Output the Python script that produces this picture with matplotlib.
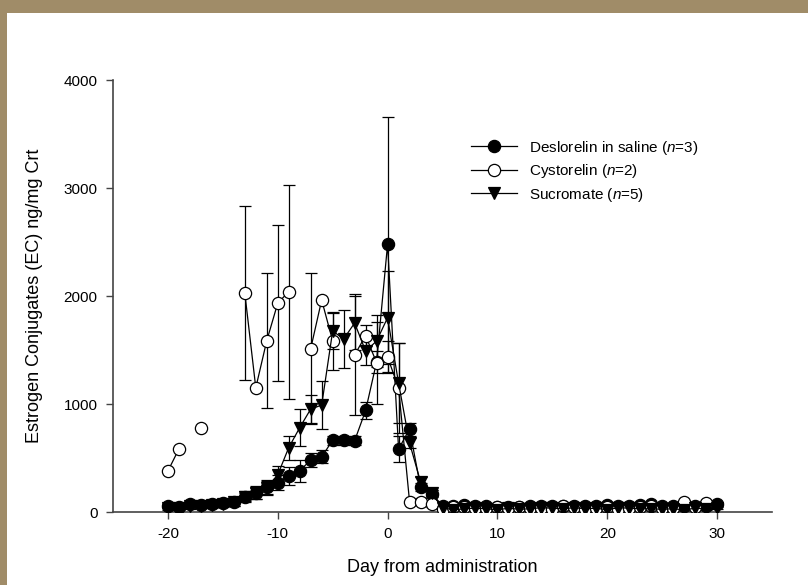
import numpy as np
import matplotlib
matplotlib.use("Agg")
import matplotlib.pyplot as plt
from matplotlib.patches import Rectangle

plt.rcParams['font.family'] = ['Liberation Sans', 'DejaVu Sans']
plt.rcParams['mathtext.fontset'] = 'custom'
plt.rcParams['mathtext.it'] = 'Liberation Sans:italic'
plt.rcParams['mathtext.rm'] = 'Liberation Sans'
plt.rcParams['axes.unicode_minus'] = False

nan = np.nan

# Deslorelin in saline, days -20..30
days_d = np.arange(-20, 31)
deslorelin = [55, 45, 72, 65, 75, 85, 95, 140, 175, 230, 270, 333, 382, 481, 510, 665, 665, 660,
              940, 1390, 2480, 583, 768, 231, 170,
              60, 55, 65, 60, 55, 50, 45, 50, 55, 55, 60, 55, 60, 55, 60, 65, 55, 60, 65, 70,
              60, 55, 60, 55, 60, 75]
deslorelin_err = [20, 20, 25, 25, 30, 30, 35, 40, 50, 60, 70, 80, 100, 65, 60, 40, 40, 40,
                  75, 100, 1180, 117, 60, 40, 30,
                  15, 15, 15, 15, 15, 15, 15, 15, 15, 15, 15, 15, 15, 15, 15, 15, 15, 15, 15, 15,
                  15, 15, 15, 15, 15, 15]

# Cystorelin, days -20..29
days_c = np.arange(-20, 30)
cystorelin = [380, 583, nan, 778, nan, nan, nan, 2028, 1150, 1586, 1934, 2040, nan, 1512, 1963,
              1583, nan, 1454, 1633, 1382, 1435, 1148, 96, 96, 70,
              30, 45, 50, 40, 35, 50, 40, 45, 35, 40, 30, 55, 45, 30, 40, 45, 30, 40, 50, 55,
              40, 40, 90, 45, 85]
cystorelin_err = [0, 0, 0, 0, 0, 0, 0, 805, 0, 627, 720, 990, 0, 700, 0,
                  270, 0, 560, 100, 380, 150, 420, 0, 30, 20,
                  0, 10, 10, 0, 0, 10, 0, 10, 0, 0, 0, 10, 0, 0, 0, 10, 0, 0, 10, 10,
                  0, 0, 15, 10, 10]

# Sucromate, days -20..30
days_s = np.arange(-20, 31)
sucromate = [40, 35, 55, 60, 65, 75, 95, 140, 180, 225, 345, 596, 781, 953, 990, 1676, 1602, 1750,
             1490, 1583, 1799, 1194, 639, 281, 176,
             40, 20, 30, 35, 30, 20, 35, 25, 30, 40, 35, 30, 40, 30, 35, 20, 40, 35, 30, 30,
             25, 30, 20, 35, 30, 35]
sucromate_err = [20, 20, 25, 25, 30, 30, 35, 50, 60, 70, 80, 110, 170, 130, 220, 170, 270, 250,
                 130, 240, 430, 370, 50, 40, 30,
                 10, 10, 10, 10, 10, 10, 10, 10, 10, 10, 10, 10, 10, 10, 10, 10, 10, 10, 10, 10,
                 10, 10, 10, 10, 10, 10]

fig = plt.figure(figsize=(8.08, 5.85), dpi=100)
fig.patch.set_facecolor('#a08c68')
bg = fig.add_axes([7 / 808, 0, 1 - 7 / 808, 1 - 13 / 585], zorder=-5)
bg.set_axis_off()
bg.add_patch(Rectangle((0, 0), 1, 1, transform=bg.transAxes, facecolor='white', edgecolor='none'))

ax = fig.add_axes([113 / 808, 1 - 512 / 585, 659 / 808, 432 / 585])
ax.set_facecolor('white')


def draw(x, y, e, marker, mfc, label):
    y = np.array(y, dtype=float)
    e = np.array(e, dtype=float)
    m = (e > 0) & ~np.isnan(y)
    ax.errorbar(x[m], y[m], yerr=e[m], fmt='none', ecolor='black', elinewidth=0.9,
                capsize=4.5, capthick=0.9, zorder=2)
    ax.plot(x, y, '-', marker=marker, color='black', mfc=mfc, mec='black', ms=8.8,
            lw=0.9, mew=0.9, label=label, zorder=3)


draw(days_d, deslorelin, deslorelin_err, 'o', 'black', r'Deslorelin in saline ($\it{n}$=3)')
draw(days_c, cystorelin, cystorelin_err, 'o', 'white', r'Cystorelin ($\it{n}$=2)')
draw(days_s, sucromate, sucromate_err, 'v', 'black', r'Sucromate ($\it{n}$=5)')

ax.set_xlim(-25, 35)
ax.set_ylim(0, 4000)
ax.set_xticks([-20, -10, 0, 10, 20, 30])
ax.set_yticks([0, 1000, 2000, 3000, 4000])
for s in ['top', 'right']:
    ax.spines[s].set_visible(False)
for s in ['left', 'bottom']:
    ax.spines[s].set_color('#444444')
    ax.spines[s].set_linewidth(1.2)
ax.tick_params(direction='out', length=5, width=1.0, color='#444444', labelsize=11, pad=6)

ax.set_xlabel('Day from administration', fontsize=13, labelpad=13)
ax.set_ylabel('Estrogen Conjugates (EC) ng/mg Crt', fontsize=13, labelpad=15)

ax.legend(loc='upper left', bbox_to_anchor=(0.534, 0.878), frameon=False, fontsize=11,
          handlelength=3.0, handletextpad=0.8, labelspacing=0.35, borderaxespad=0)

fig.savefig('out.png', dpi=100, facecolor=fig.get_facecolor())
